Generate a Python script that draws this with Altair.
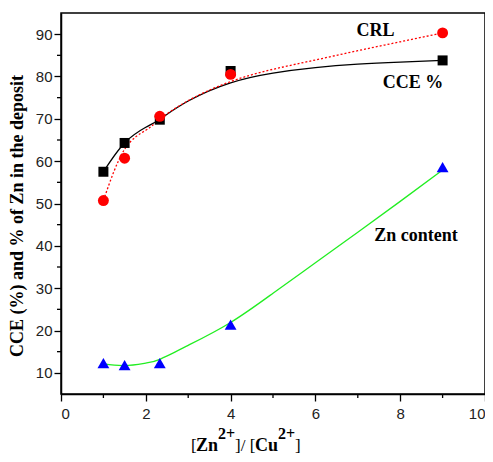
import altair as alt
import pandas as pd

# measured points
x_pts = [1, 1.5, 2.33, 4, 9]
cce = [57.5, 64.3, 69.8, 81.3, 83.8]
crl = [50.7, 60.7, 70.6, 80.5, 90.3]
zn = [12.3, 11.8, 12.3, 21.4, 58.6]

# fitted curves
fit_x = [1, 1.5, 2, 2.33, 3, 4, 5, 6, 7, 8, 9]
cce_fit = [57.5, 64.3, 68.0, 69.9, 74.2, 78.5, 80.8, 82.1, 82.9, 83.4, 83.8]
crl_fit = [50.7, 62.8, 67.3, 69.9, 74.3, 78.8, 81.7, 83.9, 86.1, 88.2, 90.3]
zn_fit = [12.1, 11.7, 12.3, 13.2, 16.5, 21.9, 28.8, 36.0, 43.2, 50.5, 57.9]

x_ticks = [0, 2, 4, 6, 8, 10]
x_minor = [1, 3, 5, 7, 9]
y_ticks = [10, 20, 30, 40, 50, 60, 70, 80, 90]
y_minor = [15, 25, 35, 45, 55, 65, 75, 85]

labels = ["CRL", "CCE %", "Zn content"]
label_x = [7.42, 8.30, 8.37]
label_y = [90.7, 78.4, 42.4]

W, H = 424, 381
SERIF = "Liberation Serif"

xs = alt.Scale(domain=[0, 10], nice=False)
ys = alt.Scale(domain=[5, 95], nice=False)

pts = pd.DataFrame({"x": x_pts, "cce": cce, "crl": crl, "zn": zn})
fits = pd.DataFrame({"x": fit_x, "cce": cce_fit, "crl": crl_fit, "zn": zn_fit})

X = alt.X("x:Q", scale=xs, axis=alt.Axis(values=x_ticks, title=None, format="d",
                                         labelPadding=5))
def Y(f):
    return alt.Y(f"{f}:Q", scale=ys, axis=alt.Axis(values=y_ticks, title=None, labelPadding=2))

base_f = alt.Chart(fits)
base_p = alt.Chart(pts)

cce_line = base_f.mark_line(color="black", strokeWidth=1.3, interpolate="natural").encode(x=X, y=Y("cce"))
crl_line = base_f.mark_line(color="red", strokeWidth=1.3, strokeDash=[2, 2], interpolate="natural").encode(x=X, y=Y("crl"))
zn_line = base_f.mark_line(color="#22ee22", strokeWidth=1.3, interpolate="natural").encode(x=X, y=Y("zn"))

cce_pts = base_p.mark_point(shape="square", filled=True, color="black", size=100, opacity=1).encode(x=X, y=Y("cce"))
crl_pts = base_p.mark_point(shape="circle", filled=True, color="red", size=120, opacity=1).encode(x=X, y=Y("crl"))
zn_pts = base_p.mark_point(shape="triangle-up", filled=True, color="blue", size=140, opacity=1).encode(x=X, y=Y("zn"))

lab = alt.Chart(pd.DataFrame({"t": labels, "x": label_x, "y": label_y})).mark_text(
    font=SERIF, fontSize=18, fontWeight="bold", color="black", baseline="middle", align="center"
).encode(x=alt.X("x:Q", scale=xs), y=alt.Y("y:Q", scale=ys), text="t:N")

xm = alt.Chart(pd.DataFrame({"v": x_minor})).mark_rule(color="black", strokeWidth=1.3).encode(
    x=alt.X("v:Q", scale=xs), y=alt.value(H), y2=alt.value(H + 4))
ym = alt.Chart(pd.DataFrame({"v": y_minor})).mark_rule(color="black", strokeWidth=1.3).encode(
    y=alt.Y("v:Q", scale=ys), x=alt.value(0), x2=alt.value(-4))

one = pd.DataFrame({"a": [0]})
def txt(s, px, py, size, bold=True, angle=0):
    kw = dict(font=SERIF, fontSize=size, fontWeight="bold" if bold else "normal",
              color="black", align="left", baseline="alphabetic")
    if angle:
        kw.update(angle=angle, align="center", baseline="middle")
    return alt.Chart(one).mark_text(**kw).encode(x=alt.value(px), y=alt.value(py), text=alt.value(s))

ytitle = txt("CCE (%) and % of Zn in the deposit", -43, 203, 18, angle=270)
BL, SB = 438, 426
xt = [
    txt("[", 130, BL, 17, bold=False),
    txt("Zn", 135, BL, 18),
    txt("2+", 157, SB, 16),
    txt("]/ [", 174, BL, 17, bold=False),
    txt("Cu", 194, BL, 18),
    txt("2+", 217, SB, 16),
    txt("]", 234, BL, 17, bold=False),
]

chart = alt.layer(
    xm, ym, cce_line, crl_line, zn_line, cce_pts, crl_pts, zn_pts, lab, ytitle, *xt
).properties(
    width=W, height=H, autosize=alt.AutoSizeParams(type="none"),
    padding={"left": 53, "top": 5, "right": 0, "bottom": 60},
).configure_view(stroke="black", strokeWidth=1.5).configure_axis(
    grid=False, domainColor="black", domainWidth=1.5, tickColor="black", tickWidth=1.3,
    tickSize=7, labelFont="Liberation Sans", labelFontSize=15, labelColor="#222222",
)

chart.save("out.html", embed_options={"renderer": "svg", "actions": False})
